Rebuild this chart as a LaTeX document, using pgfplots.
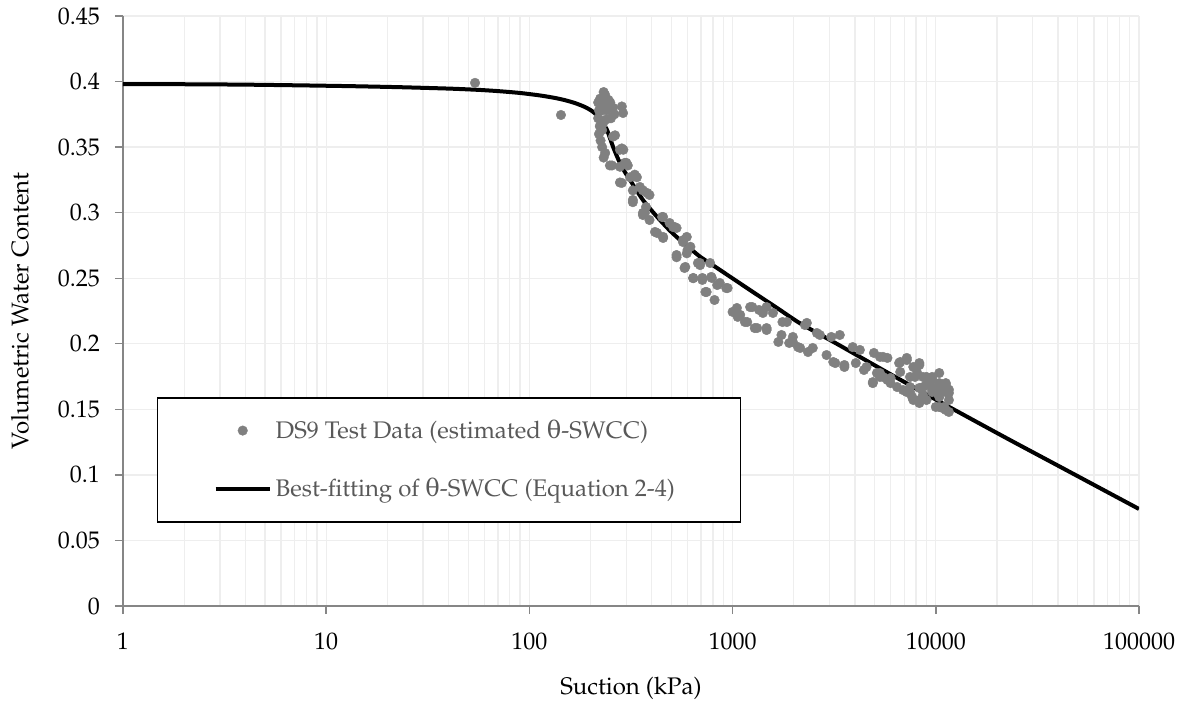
\documentclass[border=0pt]{standalone}
\usepackage{fontspec}
\newfontfamily\greekf{DejaVu Serif}
\usepackage[T1]{fontenc}
\usepackage{mathpazo}
\usepackage{pgfplots}
\pgfplotsset{compat=1.18}
\definecolor{axisgray}{HTML}{868686}
\definecolor{gridgray}{HTML}{EEEEEE}
\definecolor{ptgray}{HTML}{808080}
\definecolor{legtext}{HTML}{595959}
\newcommand\fs{\fontsize{12}{14.4}\selectfont}
\pgfplotsset{
  scatlegend/.style={legend image code/.code={\path[draw=none,fill=none] (0pt,0pt) -- (27pt,0pt); \draw[##1] plot coordinates {(13.5pt,0pt)};}},
  linelegend/.style={legend image code/.code={\draw[##1] (0pt,0pt) -- (27pt,0pt);}}
}

\pgfplotstableread{
x y
54 0.399
143 0.3745
232 0.392
236 0.3897
223 0.387
245 0.386
218 0.384
233 0.383
250 0.384
258 0.380
285 0.381
228 0.378
220 0.378
240 0.378
289 0.376
262 0.375
218 0.372
238 0.371
252 0.372
222 0.366
230 0.368
220 0.360
228 0.363
224 0.355
264 0.359
258 0.358
228 0.350
236 0.3455
232 0.342
285 0.349
290 0.348
279 0.348
249 0.336
255 0.336
279 0.335
300 0.338
305 0.336
295 0.338
313 0.327
330 0.329
338 0.327
285 0.3227
279 0.323
323 0.317
350 0.3196
362 0.317
380 0.315
390 0.3135
323 0.3097
323 0.308
375 0.3043
362 0.2998
370 0.2998
362 0.2982
390 0.2944
455 0.2967
450 0.2967
490 0.2921
510 0.289
520 0.289
530 0.2883
425 0.2845
415 0.2853
455 0.2815
455 0.2807
570 0.2776
570 0.279
595 0.2815
620 0.274
600 0.2715
595 0.269
530 0.266
530 0.2677
675 0.2616
690 0.2616
692 0.260
775 0.2616
580 0.2578
585 0.2586
640 0.2502
640 0.250
710 0.2502
785 0.251
790 0.2502
710 0.2487
840 0.2448
865 0.2464
930 0.2425
945 0.2425
745 0.2395
735 0.2395
815 0.2334
1000 0.2243
1050 0.2273
1060 0.2205
1090 0.222
1150 0.2166
1180 0.2166
1220 0.228
1250 0.228
1350 0.2258
1410 0.2235
1470 0.228
1580 0.2235
1285 0.212
1320 0.212
1470 0.2105
1470 0.212
1680 0.2014
1740 0.2067
1760 0.2166
1850 0.2166
1900 0.2006
1980 0.2052
1980 0.2014
2100 0.1975
2150 0.1968
2270 0.2143
2320 0.2159
2350 0.1937
2480 0.1968
2600 0.2082
2690 0.2067
2900 0.1914
3060 0.2052
3130 0.1861
3200 0.1853
3370 0.2067
3550 0.1838
3550 0.1823
3900 0.1975
4040 0.1853
4230 0.1953
4430 0.180
4560 0.1823
4900 0.1708
4900 0.170
4960 0.193
5130 0.1777
5310 0.1777
5310 0.190
5310 0.1747
5500 0.190
5500 0.1747
5780 0.1724
5780 0.1892
5990 0.1739
5990 0.170
6450 0.167
6600 0.1853
6680 0.1785
6680 0.1861
6900 0.1647
7200 0.1876
7200 0.1892
7200 0.1632
7470 0.1747
7470 0.1632
7470 0.167
7650 0.1594
7750 0.1823
7750 0.1571
7900 0.1747
8100 0.1777
8300 0.1853
8300 0.1838
8300 0.1548
8300 0.1663
8300 0.1571
8650 0.161
8650 0.167
8650 0.1747
9000 0.1686
9000 0.1747
9000 0.1571
9500 0.1739
9600 0.1724
9600 0.1647
9600 0.1632
9600 0.1747
9600 0.1663
10000 0.1518
10400 0.1777
10400 0.170
10400 0.1594
10400 0.1647
10400 0.1518
10800 0.151
11000 0.1518
11200 0.170
11200 0.1632
11200 0.1686
11200 0.1495
11600 0.1571
11600 0.1625
11600 0.148
11600 0.165
}\testdata

\pgfplotstableread{
x y
1 0.3981
2.39 0.3979
4.22 0.3976
7.43 0.3971
13.1 0.3965
23.1 0.3957
40.7 0.3946
57.1 0.3936
71.7 0.3926
89.9 0.3913
112.8 0.3894
133.6 0.3875
149.7 0.3858
167.6 0.3836
187.7 0.3806
203.3 0.3775
217.7 0.3734
230.3 0.3684
241 0.3631
249 0.3570
258 0.3503
268 0.3440
279 0.3379
295 0.3310
313 0.3249
335 0.3175
362 0.3097
395 0.3025
439 0.2944
490 0.2865
551 0.2792
620 0.2725
692 0.2664
774 0.2614
1218 0.2410
1711 0.2258
2148 0.2156
3300 0.1995
5313 0.1813
9690 0.1586
15000 0.1425
23180 0.1266
40000 0.1070
100000 0.0740
}\fitdata

\begin{document}
\begin{tikzpicture}
\useasboundingbox (-61.5pt,-48pt) rectangle (530pt,303pt);
\begin{axis}[
  at={(0pt,0pt)}, anchor=south west,
  scale only axis, width=508pt, height=295pt,
  xmode=log, log basis x=10,
  xmin=1, xmax=100000, ymin=0, ymax=0.45,
  xtick={1,10,100,1000,10000,100000},
  xticklabels={1,10,100,1000,10000,100000},
  minor xtick={2,3,4,5,6,7,8,9,20,30,40,50,60,70,80,90,200,300,400,500,600,700,800,900,2000,3000,4000,5000,6000,7000,8000,9000,20000,30000,40000,50000,60000,70000,80000,90000},
  ytick={0,0.05,0.1,0.15,0.2,0.25,0.3,0.35,0.4,0.45},
  yticklabels={0,0.05,0.1,0.15,0.2,0.25,0.3,0.35,0.4,0.45},
  grid=both,
  major grid style={gridgray, line width=0.65pt},
  minor grid style={gridgray, line width=0.65pt},
  axis x line*=bottom, axis y line*=left,
  axis line style={axisgray, line width=0.7pt},
  tick align=outside, major tick length=4pt, minor tick length=0pt,
  tick style={axisgray, line width=0.7pt},
  xticklabel style={font=\fs, text=black, anchor=north, yshift=-6pt},
  yticklabel style={font=\fs, text=black, anchor=east, xshift=-4pt},
  xlabel={Suction (kPa)},
  ylabel={Volumetric Water Content},
  xlabel style={font=\fs, at={(axis description cs:0.5,0)}, anchor=north, yshift=-32pt},
  ylabel style={font=\fs, at={(axis description cs:0,0.5)}, anchor=south, rotate=0, xshift=0pt, yshift=43.5pt},
  legend cell align=left,
  legend style={at={(0.0335,0.354)}, anchor=north west, draw=black, line width=0.7pt,
    fill=white, inner xsep=28pt, inner ysep=9pt, row sep=14.5pt, font=\fs, text=legtext},
]
\addplot[only marks, mark=*, mark size=2.4pt, color=ptgray,
  mark options={fill=ptgray, draw=ptgray, line width=0.2pt}, scatlegend]
  table[x=x,y=y] {\testdata};
\addlegendentry{\makebox[202.5pt][l]{DS9 Test Data (estimated {\greekf θ}-SWCC)}}
\addplot[black, line width=2pt, smooth, tension=0.4, mark=none, linelegend]
  table[x=x,y=y] {\fitdata};
\addlegendentry{\makebox[202.5pt][l]{Best-fitting of {\greekf θ}-SWCC (Equation 2-4)}}
\end{axis}
\end{tikzpicture}
\end{document}
